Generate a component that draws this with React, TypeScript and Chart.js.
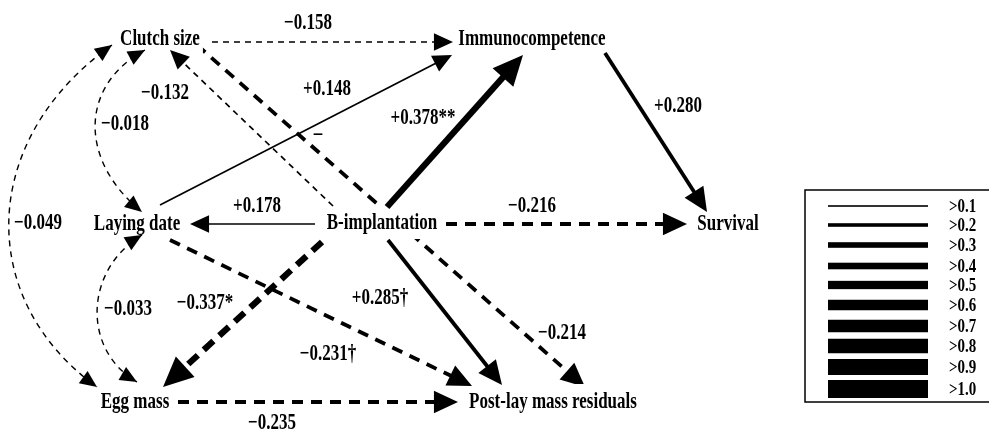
import React, { useEffect, useRef } from "react";
import { Chart, registerables } from "chart.js";

Chart.register(...registerables);

// ---------- DATA ----------
const nodeNames = [
  "Clutch size",
  "Immunocompetence",
  "Laying date",
  "B-implantation",
  "Survival",
  "Egg mass",
  "Post-lay mass residuals",
];
// node label centres (diagram units, y down)
const nodeX = [160, 532, 137, 382, 728, 135, 553];
const nodeY = [38, 38, 223, 222, 223, 401, 401];

// directed paths
const edgeFrom = [
  "Clutch size", "Clutch size", "B-implantation", "Laying date", "B-implantation", "Immunocompetence",
  "B-implantation", "B-implantation", "B-implantation", "Laying date", "B-implantation", "Egg mass",
];
const edgeTo = [
  "Post-lay mass residuals", "Immunocompetence", "Clutch size", "Immunocompetence", "Immunocompetence", "Survival",
  "Laying date", "Survival", "Egg mass", "Post-lay mass residuals", "Post-lay mass residuals", "Post-lay mass residuals",
];
const edgeCoef = [-0.214, -0.158, -0.132, 0.148, 0.378, 0.28, 0.178, -0.216, -0.337, -0.231, 0.285, -0.235];
const edgeSig = ["", "", "", "", "**", "", "", "", "*", "\u2020", "\u2020", ""];

// correlations (double-headed curves)
const corrA = ["Clutch size", "Clutch size", "Laying date"];
const corrB = ["Egg mass", "Laying date", "Egg mass"];
const corrCoef = [-0.049, -0.018, -0.033];

// legend
const legendLabels = [">0.1", ">0.2", ">0.3", ">0.4", ">0.5", ">0.6", ">0.7", ">0.8", ">0.9", ">1.0"];

// ---------- LAYOUT / STYLE ----------
const edgeStart: [number, number][] = [
  [197, 45], [212, 42], [333, 206], [160, 205], [387, 207], [605, 53],
  [315, 224], [446, 224], [322, 242], [170, 240], [388, 240], [178, 402],
];
const edgeEnd: [number, number][] = [
  [585, 387], [453, 42], [170, 50], [452, 55], [523, 55], [707, 212],
  [190, 224], [687, 224], [163, 387], [472, 386], [502, 385], [458, 402],
];
const edgeLabelPos: [number, number][] = [
  [562, 332], [308, 22], [165, 92], [327, 88], [423, 117], [678, 105],
  [257, 205], [532, 205], [205, 302], [328, 353], [380, 297], [272, 422],
];
// extra isolated mark
const extraLabel = { text: "\u2013", x: 318, y: 133 };

// bezier for correlations: p0 (tip A), c1, c2, p3 (tip B)
const corrCurve: number[][] = [
  [112, 45, -22, 140, -24, 300, 97, 387],
  [145, 50, 80, 85, 78, 160, 142, 212],
  [142, 235, 84, 270, 82, 350, 137, 382],
];
const corrLabelPos: [number, number][] = [
  [38, 222], [125, 123], [128, 308],
];

const legendBox = { x0: 805, y0: 190, x1: 996, y1: 402 };
const legendLineX: [number, number] = [828, 928];
const legendRowY = [206, 225, 245, 266, 285, 305, 326, 346, 367, 389];
const legendWidths = [1.6, 3.6, 5.6, 6.6, 8.3, 10.5, 12.5, 14.5, 16, 18];

const FONT = '"Liberation Serif", "Times New Roman", serif';
const TEXT_SY = 1.32;

function fmt(c: number, sig = "") {
  return (c < 0 ? "\u2212" : "+") + Math.abs(c).toFixed(3) + sig;
}

function widthFor(c: number) {
  const bin = Math.floor(Math.abs(c) * 10) - 1;
  if (bin < 0) return 1.3;
  return legendWidths[Math.min(bin, legendWidths.length - 1)] * (bin === 2 ? 1.12 : 1.05);
}

function drawText(ctx: CanvasRenderingContext2D, text: string, x: number, y: number, size: number, sy: number, align: CanvasTextAlign = "center") {
  ctx.save();
  ctx.translate(x, y);
  ctx.scale(1, sy);
  ctx.font = `bold ${size}px ${FONT}`;
  ctx.textAlign = align;
  ctx.textBaseline = "middle";
  ctx.fillStyle = "#000";
  ctx.fillText(text, 0, 1);
  ctx.restore();
}

function head(ctx: CanvasRenderingContext2D, tx: number, ty: number, ux: number, uy: number, len: number, half: number) {
  const bx = tx - ux * len;
  const by = ty - uy * len;
  const nx = -uy;
  const ny = ux;
  ctx.beginPath();
  ctx.moveTo(tx, ty);
  ctx.lineTo(bx + nx * half, by + ny * half);
  ctx.lineTo(bx - nx * half, by - ny * half);
  ctx.closePath();
  ctx.fillStyle = "#000";
  ctx.fill();
}

function dashFor(w: number): number[] {
  if (w < 2.5) return [6, 5];
  if (w < 5) return [11, 8];
  return [13, 8];
}

const diagramPlugin = {
  id: "pathDiagram",
  afterDatasetsDraw(chart: any) {
    const ctx: CanvasRenderingContext2D = chart.ctx;
    const xs = chart.scales.x;
    const ys = chart.scales.y;
    const px = (v: number) => xs.getPixelForValue(v);
    const py = (v: number) => ys.getPixelForValue(v);

    const drawEdge = (i: number) => {
      const c = edgeCoef[i];
      const w = widthFor(c);
      const x1 = px(edgeStart[i][0]);
      const y1 = py(edgeStart[i][1]);
      const x2 = px(edgeEnd[i][0]);
      const y2 = py(edgeEnd[i][1]);
      const L = Math.hypot(x2 - x1, y2 - y1);
      const ux = (x2 - x1) / L;
      const uy = (y2 - y1) / L;
      const hl = 15 + 2.4 * w;
      const hh = 7 + 1.1 * w;
      ctx.save();
      ctx.strokeStyle = "#000";
      ctx.lineWidth = w;
      ctx.lineCap = "butt";
      ctx.setLineDash(c < 0 ? dashFor(w) : []);
      ctx.beginPath();
      ctx.moveTo(x1, y1);
      ctx.lineTo(x2 - ux * hl * 0.9, y2 - uy * hl * 0.9);
      ctx.stroke();
      ctx.restore();
      head(ctx, x2, y2, ux, uy, hl, hh);
    };

    ctx.save();
    // first edge passes behind B-implantation label
    drawEdge(0);
    ctx.font = `bold 17px ${FONT}`;
    nodeNames.forEach((n, i) => {
      const tw = ctx.measureText(n).width;
      ctx.fillStyle = "#fff";
      ctx.fillRect(px(nodeX[i]) - tw / 2 - 3, py(nodeY[i]) - 17, tw + 6, 34);
    });
    for (let i = 1; i < edgeCoef.length; i++) drawEdge(i);

    // correlation curves
    corrCoef.forEach((c, i) => {
      const p = corrCurve[i];
      const X = [px(p[0]), px(p[2]), px(p[4]), px(p[6])];
      const Y = [py(p[1]), py(p[3]), py(p[5]), py(p[7])];
      ctx.save();
      ctx.strokeStyle = "#000";
      ctx.lineWidth = 1.4;
      ctx.setLineDash(c < 0 ? [6, 5] : []);
      ctx.beginPath();
      ctx.moveTo(X[0], Y[0]);
      ctx.bezierCurveTo(X[1], Y[1], X[2], Y[2], X[3], Y[3]);
      ctx.stroke();
      ctx.restore();
      let dx = X[0] - X[1], dy = Y[0] - Y[1], L = Math.hypot(dx, dy);
      head(ctx, X[0], Y[0], dx / L, dy / L, 17, 7.5);
      dx = X[3] - X[2]; dy = Y[3] - Y[2]; L = Math.hypot(dx, dy);
      head(ctx, X[3], Y[3], dx / L, dy / L, 17, 7.5);
    });

    // node labels
    nodeNames.forEach((n, i) => drawText(ctx, n, px(nodeX[i]), py(nodeY[i]), 17, TEXT_SY));
    // coefficient labels
    edgeCoef.forEach((c, i) => drawText(ctx, fmt(c, edgeSig[i]), px(edgeLabelPos[i][0]), py(edgeLabelPos[i][1]), 17, TEXT_SY));
    corrCoef.forEach((c, i) => drawText(ctx, fmt(c), px(corrLabelPos[i][0]), py(corrLabelPos[i][1]), 17, TEXT_SY));
    drawText(ctx, extraLabel.text, px(extraLabel.x), py(extraLabel.y), 17, TEXT_SY);

    // legend
    ctx.strokeStyle = "#000";
    ctx.lineWidth = 1.5;
    ctx.setLineDash([]);
    ctx.strokeRect(px(legendBox.x0), py(legendBox.y0), px(legendBox.x1) - px(legendBox.x0), py(legendBox.y1) - py(legendBox.y0));
    legendLabels.forEach((lab, i) => {
      const y = py(legendRowY[i]);
      ctx.fillStyle = "#000";
      const w = legendWidths[i];
      ctx.fillRect(px(legendLineX[0]), y - w / 2, px(legendLineX[1]) - px(legendLineX[0]), w);
      drawText(ctx, lab, px(949), y, 15, 1.2, "left");
    });
    ctx.restore();
  },
};

export default function App() {
  const ref = useRef<HTMLCanvasElement | null>(null);
  useEffect(() => {
    if (!ref.current) return;
    const chart = new Chart(ref.current, {
      type: "scatter",
      data: {
        datasets: [
          {
            data: nodeNames.map((_, i) => ({ x: nodeX[i], y: nodeY[i] })),
            pointRadius: 0,
            showLine: false,
          },
        ],
      },
      options: {
        animation: false,
        responsive: false,
        maintainAspectRatio: false,
        layout: { padding: 0 },
        events: [],
        plugins: { legend: { display: false }, tooltip: { enabled: false } },
        scales: {
          x: { type: "linear", min: 0, max: 989, display: false },
          y: { type: "linear", min: 0, max: 434, reverse: true, display: false },
        },
      },
      plugins: [diagramPlugin],
    });
    return () => chart.destroy();
  }, []);
  return (
    <div style={{ position: "fixed", left: 0, top: 0, width: 989, height: 434, background: "#fff" }}>
      <canvas ref={ref} width={989} height={434} style={{ display: "block" }} />
    </div>
  );
}
